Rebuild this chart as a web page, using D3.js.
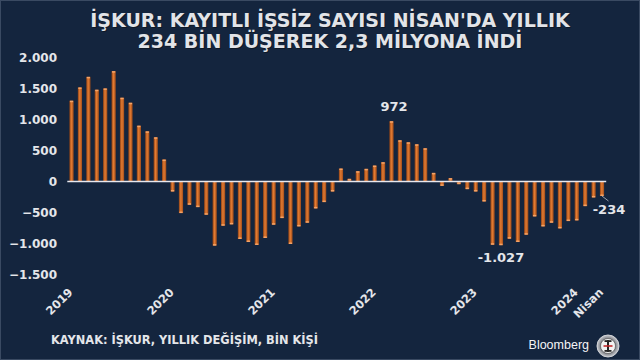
<!DOCTYPE html>
<html>
<head>
<meta charset="utf-8">
<script src="https://cdn.jsdelivr.net/npm/d3@7"></script>
<style>
  html, body { margin: 0; padding: 0; background: #14253e; }
  svg { display: block; }
</style>
</head>
<body>
<svg id="chart" width="640" height="360"></svg>
<script>
// ---- DATA ----
const years = ["2019", "2020", "2021", "2022", "2023", "2024"];
const monthNums = ["01","02","03","04","05","06","07","08","09","10","11","12"];
const values2019 = [1303, 1517, 1688, 1480, 1501, 1780, 1351, 1270, 900, 809, 713, 354];
const values2020 = [-161, -509, -375, -413, -536, -1034, -713, -691, -927, -976, -1024, -911];
const values2021 = [-697, -590, -1008, -724, -665, -434, -332, -161, 209, 43, 166, 204];
const values2022 = [257, 311, 972, 665, 632, 600, 536, 139, -70, 54, -43, -123];
const values2023 = [-161, -322, -1020, -1027, -922, -976, -858, -563, -724, -665, -756, -638];
const values2024 = [-627, -397, -257, -234];
const yTicks = [2000, 1500, 1000, 500, 0, -500, -1000, -1500];
const xTickLabels = [
  { cat: "2019-01", label: "2019" },
  { cat: "2020-01", label: "2020" },
  { cat: "2021-01", label: "2021" },
  { cat: "2022-01", label: "2022" },
  { cat: "2023-01", label: "2023" },
  { cat: "2024-01", label: "2024" },
  { cat: "2024-04", label: "Nisan" }
];
const annotated = [
  { cat: "2022-03", text: "972" },
  { cat: "2023-04", text: "-1.027" },
  { cat: "2024-04", text: "-234" }
];
const titleLines = ["İŞKUR: KAYITLI İŞSİZ SAYISI NİSAN'DA YILLIK", "234 BİN DÜŞEREK 2,3 MİLYONA İNDİ"];
const sourceText = "KAYNAK: İŞKUR, YILLIK DEĞİŞİM, BİN KİŞİ";

const seriesByYear = [values2019, values2020, values2021, values2022, values2023, values2024];
const data = [];
seriesByYear.forEach((vals, yi) => {
  vals.forEach((v, mi) => data.push({ cat: years[yi] + "-" + monthNums[mi], value: v }));
});

// ---- CHART ----
const svg = d3.select("#chart");
const W = 640, H = 360;
const font = "'DejaVu Sans', Verdana, sans-serif";
const textColor = "#e4e6ea";

svg.append("rect").attr("x", 0).attr("y", 0).attr("width", W).attr("height", H).attr("fill", "#14253e");
svg.append("rect").attr("x", 0.5).attr("y", 0.5).attr("width", W - 1).attr("height", H - 1)
  .attr("fill", "none").attr("stroke", "#3a4a62").attr("stroke-width", 1);

const defs = svg.append("defs");
const grad = defs.append("linearGradient").attr("id", "barGrad").attr("x1", "0").attr("x2", "1").attr("y1", "0").attr("y2", "0");
grad.append("stop").attr("offset", "0%").attr("stop-color", "#8c4116");
grad.append("stop").attr("offset", "45%").attr("stop-color", "#e47c32");
grad.append("stop").attr("offset", "100%").attr("stop-color", "#a04c1a");
const lgrad = defs.append("radialGradient").attr("id", "logoRing");
lgrad.append("stop").attr("offset", "60%").attr("stop-color", "#6e7076");
lgrad.append("stop").attr("offset", "100%").attr("stop-color", "#c8cacf");

const x = d3.scaleBand()
  .domain(data.map(d => d.cat))
  .range([67.3, 606.2])
  .paddingInner(0.5)
  .paddingOuter(0.25);

const y = d3.scaleLinear().domain([-1500, 2000]).range([274.5, 57.5]);

// Title
const title = svg.append("g");
titleLines.forEach((t, i) => {
  title.append("text")
    .attr("x", 330).attr("y", 27 + i * 21)
    .attr("text-anchor", "middle")
    .attr("font-family", font).attr("font-weight", "bold").attr("font-size", 19)
    .attr("fill", "#0a0a0a").attr("opacity", 0.45)
    .attr("transform", "translate(1,1)")
    .text(t);
  title.append("text")
    .attr("x", 330).attr("y", 27 + i * 21)
    .attr("text-anchor", "middle")
    .attr("font-family", font).attr("font-weight", "bold").attr("font-size", 19)
    .attr("fill", "#e2e4e8")
    .text(t);
});

// Y axis
const yAxis = d3.axisLeft(y).tickValues(yTicks).tickSize(0).tickPadding(0)
  .tickFormat(d => d3.format(",")(d).replace(/,/g, "."));
const yg = svg.append("g").attr("transform", "translate(57,0)").call(yAxis);
yg.select(".domain").remove();
yg.selectAll("text")
  .attr("font-family", font).attr("font-weight", "bold").attr("font-size", 12)
  .attr("fill", textColor);

// Bars
const bars = svg.append("g");
bars.selectAll("rect.bar").data(data).join("rect")
  .attr("class", "bar")
  .attr("x", d => x(d.cat))
  .attr("width", x.bandwidth())
  .attr("y", d => Math.min(y(d.value), y(0)))
  .attr("height", d => Math.abs(y(d.value) - y(0)))
  .attr("fill", "url(#barGrad)");
bars.selectAll("rect.cap").data(data).join("rect")
  .attr("class", "cap")
  .attr("x", d => x(d.cat) + 0.5)
  .attr("width", x.bandwidth() - 1)
  .attr("y", d => d.value >= 0 ? y(d.value) : y(d.value) - 1.5)
  .attr("height", 1.5)
  .attr("fill", "#f2a46a");

// Zero line
svg.append("line")
  .attr("x1", x.range()[0]).attr("x2", x.range()[1])
  .attr("y1", y(0)).attr("y2", y(0))
  .attr("stroke", "#e8e8ee").attr("stroke-width", 1.5);

// X axis labels
const xl = svg.append("g");
xTickLabels.forEach(t => {
  const cx = x(t.cat) + x.bandwidth() / 2 + 2;
  xl.append("text")
    .attr("transform", `translate(${cx},293) rotate(-45)`)
    .attr("text-anchor", "end")
    .attr("font-family", font).attr("font-weight", "bold").attr("font-size", 11.5)
    .attr("fill", textColor)
    .text(t.label);
});

// Annotations
const byCat = new Map(data.map(d => [d.cat, d]));
annotated.forEach(a => {
  const d = byCat.get(a.cat);
  const cx = x(d.cat) + x.bandwidth() / 2;
  if (d.value > 0) {
    svg.append("text").attr("x", cx + 2.5).attr("y", y(d.value) - 10)
      .attr("text-anchor", "middle")
      .attr("font-family", font).attr("font-weight", "bold").attr("font-size", 13)
      .attr("fill", textColor).text(a.text);
  } else if (a.cat === "2024-04") {
    svg.append("line")
      .attr("x1", cx).attr("y1", y(d.value))
      .attr("x2", cx + 6.5).attr("y2", y(d.value) + 5)
      .attr("stroke", "#b8bcc4").attr("stroke-width", 0.8);
    svg.append("text").attr("x", cx + 7).attr("y", y(d.value) + 18)
      .attr("text-anchor", "middle")
      .attr("font-family", font).attr("font-weight", "bold").attr("font-size", 13)
      .attr("fill", textColor).text(a.text);
  } else {
    svg.append("text").attr("x", cx).attr("y", y(d.value) + 17)
      .attr("text-anchor", "middle")
      .attr("font-family", font).attr("font-weight", "bold").attr("font-size", 13)
      .attr("fill", textColor).text(a.text);
  }
});

// Source
svg.append("text").attr("x", 51).attr("y", 344)
  .attr("font-family", font).attr("font-weight", "bold").attr("font-size", 11.4)
  .attr("fill", textColor).text(sourceText);

// Bloomberg logo
svg.append("text").attr("x", 589).attr("y", 349)
  .attr("text-anchor", "end")
  .attr("font-family", "'Liberation Sans', Arial, sans-serif").attr("font-size", 12.5)
  .attr("fill", "#f4f4f6").text("Bloomberg");
const logo = svg.append("g").attr("transform", "translate(608,346)");
logo.append("circle").attr("r", 11).attr("fill", "url(#logoRing)").attr("stroke", "#d0d2d6").attr("stroke-width", 1);
logo.append("circle").attr("r", 7.5).attr("fill", "#f2f2f2").attr("stroke", "#444").attr("stroke-width", 0.6);
logo.append("rect").attr("x", -3.5).attr("y", -5.8).attr("width", 7).attr("height", 1.8).attr("fill", "#222");
logo.append("rect").attr("x", -1).attr("y", -5.8).attr("width", 2).attr("height", 11.6).attr("fill", "#222");
logo.append("rect").attr("x", -4.5).attr("y", -0.8).attr("width", 9).attr("height", 1.6).attr("fill", "#c0282a");
logo.append("rect").attr("x", -3.5).attr("y", 4).attr("width", 7).attr("height", 1.8).attr("fill", "#222");
</script>
</body>
</html>
